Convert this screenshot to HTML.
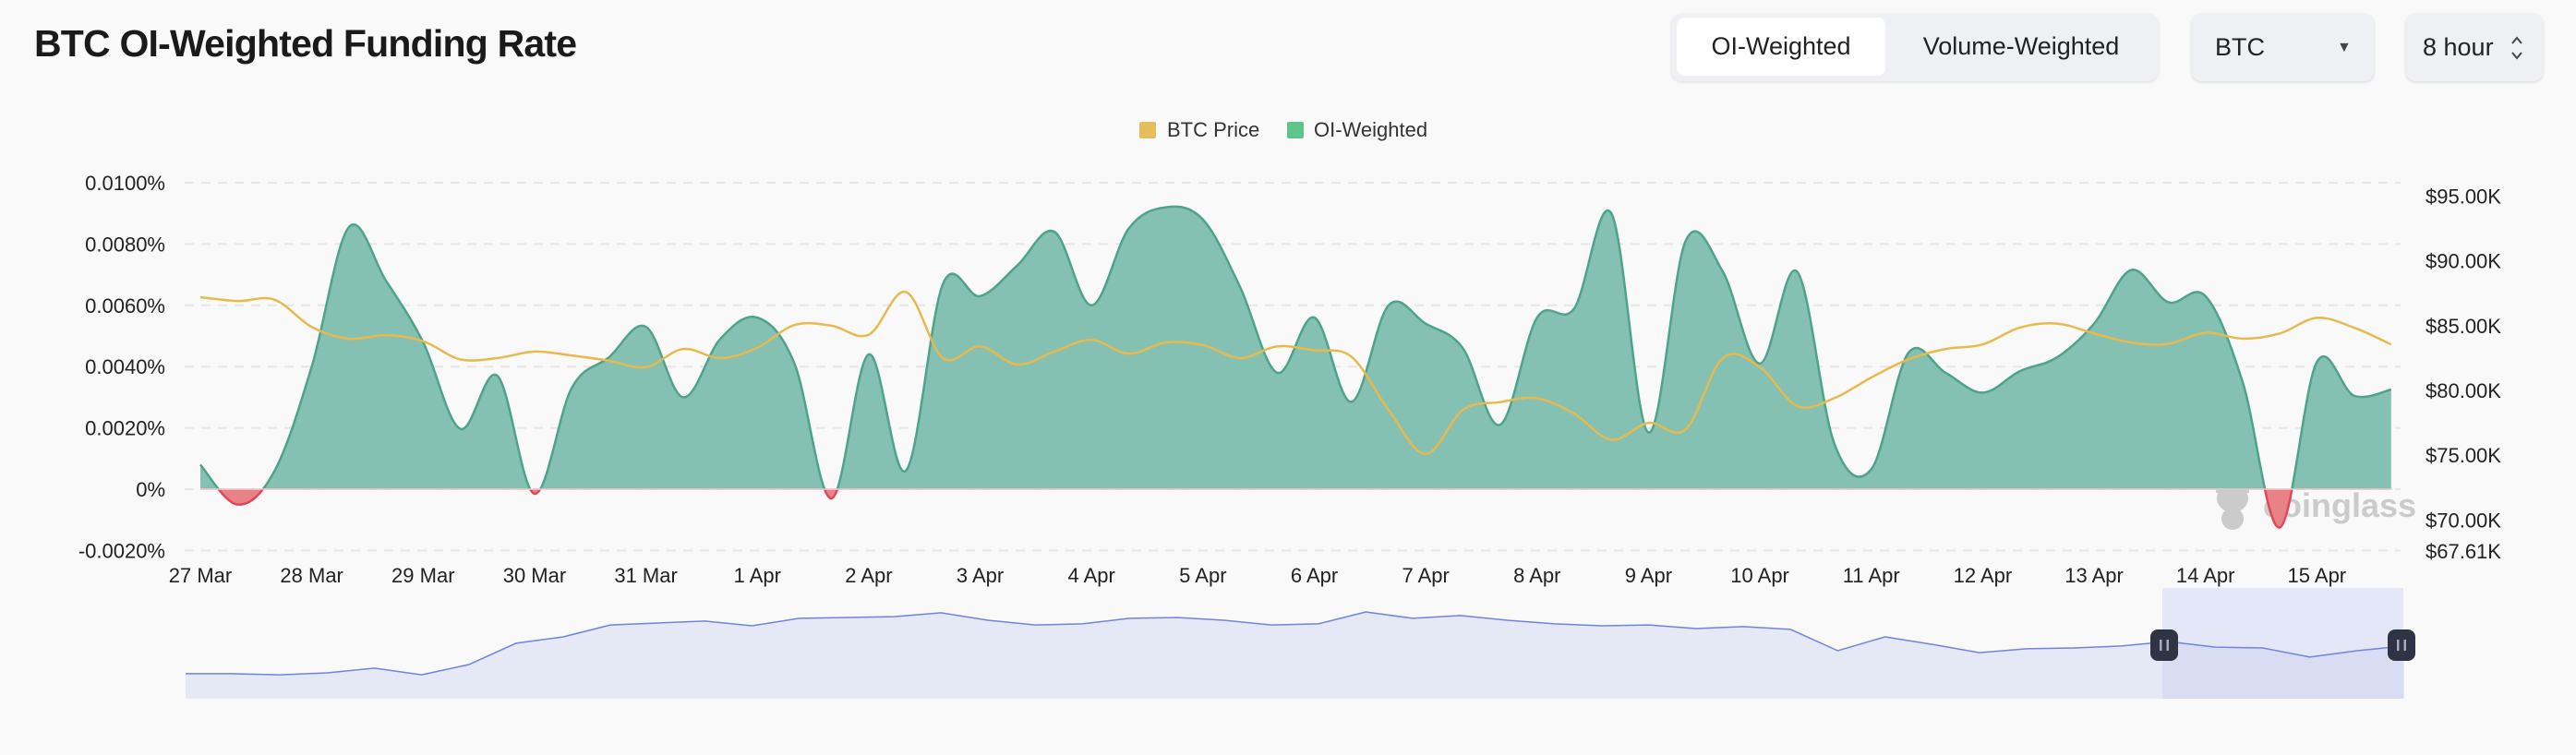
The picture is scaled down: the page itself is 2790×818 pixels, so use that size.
<!DOCTYPE html>
<html><head><meta charset="utf-8"><style>
html,body{margin:0;padding:0;background:#f9f9f9;}
body{width:2790px;height:818px;overflow:hidden;position:relative;font-family:"Liberation Sans",sans-serif;}
.title{position:absolute;left:37px;top:24px;font-size:41px;font-weight:bold;color:#1a1a1a;letter-spacing:-0.8px;}
.seg{position:absolute;left:1810px;top:15px;width:528px;height:73px;background:#eef0f4;border-radius:12px;box-shadow:0 1px 3px rgba(0,0,0,.12);}
.seg .btn{position:absolute;top:4px;height:63px;line-height:63px;font-size:27px;color:#222;text-align:center;}
.seg .on{left:6px;width:226px;background:#fff;border-radius:9px;}
.seg .off{left:240px;width:278px;}
.sel{position:absolute;top:15px;height:73px;background:#eef0f4;border-radius:10px;box-shadow:0 1px 3px rgba(0,0,0,.15);font-size:27px;line-height:73px;color:#222;}
</style></head><body>
<div class="title">BTC OI-Weighted Funding Rate</div>
<div class="seg">
<div class="btn on">OI-Weighted</div>
<div class="btn off">Volume-Weighted</div>
</div>
<div class="sel" style="left:2374px;width:197px;"><span style="position:absolute;left:25px;">BTC</span><span style="position:absolute;left:157px;font-size:16px;color:#444;">&#9660;</span></div>
<div class="sel" style="left:2606px;width:148px;"><span style="position:absolute;left:18px;">8 hour</span>
<svg style="position:absolute;left:112px;top:22px" width="16" height="30"><path d="M3,10 L8,4 L13,10 M3,20 L8,26 L13,20" fill="none" stroke="#444" stroke-width="2"/></svg></div>
<svg id="chart" width="2790" height="818" style="position:absolute;left:0;top:0"></svg>
<script>
const dates=["27 Mar","28 Mar","29 Mar","30 Mar","31 Mar","1 Apr","2 Apr","3 Apr","4 Apr","5 Apr","6 Apr","7 Apr","8 Apr","9 Apr","10 Apr","11 Apr","12 Apr","13 Apr","14 Apr","15 Apr"];
const leftTicks=[-0.002,0,0.002,0.004,0.006,0.008,0.01];
const leftTickLabels=["-0.0020%","0%","0.0020%","0.0040%","0.0060%","0.0080%","0.0100%"];
const rightTicks=[67.61,70,75,80,85,90,95];
const rightTickLabels=["$67.61K","$70.00K","$75.00K","$80.00K","$85.00K","$90.00K","$95.00K"];
const fundingRate=[0.0008,-0.0005,0.0006,0.004,0.00855,0.0068,0.0048,0.00197,0.0037,-0.00015,
0.0033,0.0043,0.0053,0.003,0.0049,0.0056,0.0041,-0.0003,0.0044,0.0006,
0.0067,0.0063,0.0073,0.0084,0.006,0.0085,0.0092,0.0088,0.0066,0.0038,
0.0056,0.00285,0.006,0.0054,0.0046,0.0021,0.0056,0.0059,0.009,0.00185,
0.0081,0.0071,0.0041,0.0071,0.0015,0.00065,0.00445,0.0038,0.00315,0.00385,
0.0043,0.0054,0.00715,0.0061,0.0063,0.0035,-0.00125,0.00415,0.00305,0.00325];
const btcPrice=[87.2,86.9,87.0,84.9,84.0,84.27,83.8,82.4,82.5,83.0,
82.7,82.3,81.8,83.2,82.5,83.3,85.05,85.0,84.3,87.6,
82.5,83.4,82.0,83.0,83.9,82.84,83.7,83.5,82.5,83.4,
83.1,82.6,78.5,75.1,78.5,79.1,79.4,78.2,76.2,77.5,
77.0,82.5,81.8,78.8,79.4,81.0,82.4,83.2,83.55,84.85,
85.16,84.4,83.7,83.6,84.45,84.0,84.4,85.6,84.85,83.55];
const sliderPrice=[68.7,68.7,68.3,69,70.7,68.3,72,79.7,82,86.3,87,87.7,86,88.7,89,89.3,90.7,88,86.3,86.7,88.7,89,88,86.3,86.7,91,88.7,89.7,88,86.7,86,86.3,85,85.7,84.7,77,82,79.3,76.3,77.7,78,78.7,80.3,78.3,78,74.7,77,78.7];

const svg=document.getElementById('chart');
const NS='http://www.w3.org/2000/svg';
function mk(tag,attrs,parent){const e=document.createElementNS(NS,tag);for(const k in attrs)e.setAttribute(k,attrs[k]);(parent||svg).appendChild(e);return e;}
const X0=217,DAY=120.65,PLOT_R=2591;
const xAt=i=>X0+i*DAY/3;
const yL=v=>530-v/0.002*66.4;
const yR=p=>597-(p-67.61)*14.04;
function spline(pts){let d='M'+pts[0][0]+','+pts[0][1];for(let i=0;i<pts.length-1;i++){const p0=pts[Math.max(0,i-1)],p1=pts[i],p2=pts[i+1],p3=pts[Math.min(pts.length-1,i+2)];const t=0.17;const c1=[p1[0]+(p2[0]-p0[0])*t,p1[1]+(p2[1]-p0[1])*t];const c2=[p2[0]-(p3[0]-p1[0])*t,p2[1]-(p3[1]-p1[1])*t];d+=' C'+c1[0]+','+c1[1]+' '+c2[0]+','+c2[1]+' '+p2[0]+','+p2[1];}return d;}

leftTicks.forEach((v,i)=>{
 const g=mk('line',{x1:200,x2:2600,y1:yL(v),y2:yL(v),stroke:'#e6e6e6','stroke-width':2,'stroke-dasharray':'10,8'});
 
 
 const t=mk('text',{x:179,y:yL(v)+8,'text-anchor':'end','font-size':22,fill:'#222','font-family':'Liberation Sans'});
 t.textContent=leftTickLabels[i];
 
 
});
rightTicks.forEach((p,i)=>{
 const t=mk('text',{x:2627,y:yR(p)+8,'font-size':22,fill:'#222','font-family':'Liberation Sans'});
 t.textContent=rightTickLabels[i];
 
 
});
dates.forEach((d,i)=>{
 const t=mk('text',{x:X0+i*DAY,y:631,'text-anchor':'middle','font-size':22,fill:'#222','font-family':'Liberation Sans'});
 t.textContent=d;
 
 
});
const l1=mk('rect',{x:1234,y:132,width:18,height:18,fill:'#e4be5b',rx:2});


const lt1=mk('text',{x:1264,y:148,'font-size':22,fill:'#333','font-family':'Liberation Sans'});lt1.textContent='BTC Price';


const l2=mk('rect',{x:1394,y:132,width:18,height:18,fill:'#5ec48a',rx:2});


const lt2=mk('text',{x:1423,y:148,'font-size':22,fill:'#333','font-family':'Liberation Sans'});lt2.textContent='OI-Weighted';


const wm=mk('text',{x:2451,y:560,'font-size':36,'font-weight':'bold',fill:'#cbcbcb','font-family':'Liberation Sans'});wm.textContent='coinglass';


const wmi=mk('g',{fill:'#cbcbcb'});


mk('ellipse',{cx:2418,cy:540,rx:17,ry:15},wmi);mk('rect',{x:2400,y:528,width:36,height:6},wmi);mk('ellipse',{cx:2418,cy:562,rx:12,ry:12},wmi);

const pts=fundingRate.map((v,i)=>[xAt(i),yL(v)]);
const line=spline(pts);
const z=yL(0);
const area=line+' L'+pts[pts.length-1][0]+','+z+' L'+pts[0][0]+','+z+' Z';
const defs=mk('defs',{});
const cp=mk('clipPath',{id:'pos'},defs);mk('rect',{x:0,y:0,width:2790,height:z},cp);
const cn=mk('clipPath',{id:'neg'},defs);mk('rect',{x:0,y:z,width:2790,height:300},cn);
const ap=mk('path',{d:area,fill:'#84c1b2','clip-path':'url(#pos)'});


const an=mk('path',{d:area,fill:'#e88286','clip-path':'url(#neg)'});


const lp=mk('path',{d:line,fill:'none',stroke:'#4ea38b','stroke-width':2.5,'clip-path':'url(#pos)'});


const ln=mk('path',{d:line,fill:'none',stroke:'#e0455a','stroke-width':2.5,'clip-path':'url(#neg)'});


const zl=mk('line',{x1:X0,x2:PLOT_R,y1:z,y2:z,stroke:'#f2c6cb','stroke-width':1.5});


const pp=btcPrice.map((p,i)=>[xAt(i),yR(p)]);
const pl=mk('path',{d:spline(pp),fill:'none',stroke:'#e8b94f','stroke-width':2.5});



const SX0=201,SX1=2604,ST=637,SB=757;
const sY=v=>756-(v-60)*3;
const sp=sliderPrice.map((v,i)=>[SX0+i*(SX1-SX0)/(sliderPrice.length-1),sY(v)]);
let sd='M'+sp.map(p=>p[0]+','+p[1]).join(' L');
const sa=mk('path',{d:sd+' L'+SX1+','+SB+' L'+SX0+','+SB+' Z',fill:'#e5e8f5'});


const sw=mk('rect',{x:2342,y:ST,width:261,height:SB-ST,fill:'#c9d0f5','fill-opacity':0.45});


const sl=mk('path',{d:sd,fill:'none',stroke:'#6f84e0','stroke-width':1.5});


[2344,2601].forEach(cx=>{
 const h=mk('g',{});
 
 
 mk('rect',{x:cx-15,y:682,width:30,height:34,rx:8,fill:'#2f3445'},h);
 mk('rect',{x:cx-5,y:693,width:2.5,height:12,fill:'#aab'},h);
 mk('rect',{x:cx+2.5,y:693,width:2.5,height:12,fill:'#aab'},h);
});
</script>
</body></html>
